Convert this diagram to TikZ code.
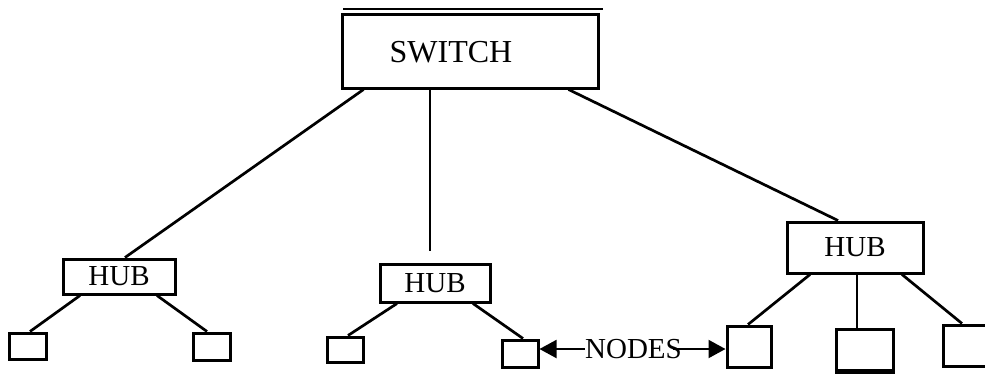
\documentclass[tikz,border=0pt]{standalone}
\usepackage{fontspec}
\setmainfont{Liberation Serif}
\usetikzlibrary{arrows.meta,positioning}

\begin{document}
\begin{tikzpicture}[
    x=1pt, y=-1pt,
    box/.style={rectangle, draw, line width=3pt, inner sep=0pt},
    hub/.style={box, font=\fontsize{29}{29}\selectfont},
    leaf/.style={box},
    wire/.style={line width=2.7pt},
    arrow/.style={line width=2pt, -{Triangle[length=17pt,width=18pt]}}
]
\clip (0,0) rectangle (985,376);

% switch at the top
\node[box, minimum width=256pt, minimum height=74pt] (switch) at (470,51) {};
\node[font=\fontsize{32}{32}\selectfont, inner sep=0pt] (switchtext) at (451,52) {SWITCH};
\draw[line width=2.4pt] (343,9) -- (603,9);

% hubs
\node[hub, minimum width=112pt, minimum height=35pt] (hub1) at (119,276.5) {HUB};
\node[hub, minimum width=110pt, minimum height=38pt] (hub2) at (435,283) {HUB};
\node[hub, minimum width=136pt, minimum height=51pt] (hub3) at (855,247.5) {HUB};
\coordinate (hub2top) at (430,251);

% end nodes
\node[leaf, minimum width=37pt, minimum height=26pt] (n1) at (27.5,346) {};
\node[leaf, minimum width=37pt, minimum height=27pt] (n2) at (211.5,346.5) {};
\node[leaf, minimum width=36pt, minimum height=25pt] (n3) at (345,349.5) {};
\node[leaf, minimum width=36pt, minimum height=27pt] (n4) at (520,353.5) {};
\node[leaf, minimum width=44pt, minimum height=41pt] (n5) at (749,346.5) {};
\node[leaf, minimum width=57pt, minimum height=43pt] (n6) at (864.5,350.5) {};
\node[leaf, minimum width=60pt, minimum height=41pt] (n7) at (973,345.5) {};
\draw[line width=2.4pt] ([xshift=2pt,yshift=3pt]n6.south west) -- ([yshift=3pt]n6.south east);

% switch to hubs
\draw[wire] ([xshift=23pt]switch.south west) -- ([xshift=6pt]hub1.north);
\draw[wire] (switch.south -| hub2top) -- (hub2top);
\draw[wire] ([xshift=-31pt]switch.south east) -- ([xshift=-17pt]hub3.north);

% hubs to end nodes
\draw[wire] ([xshift=-39pt]hub1.south) -- ([xshift=2.5pt]n1.north);
\draw[wire] ([xshift=38pt]hub1.south) -- ([xshift=-4.5pt]n2.north);
\draw[wire] ([xshift=-38pt]hub2.south) -- ([xshift=3pt]n3.north);
\draw[wire] ([xshift=38pt]hub2.south) -- ([xshift=3pt]n4.north);
\draw[wire] ([xshift=-45pt]hub3.south) -- ([xshift=-1pt]n5.north);
\draw[wire] ([xshift=2pt]hub3.south) -- ([xshift=-7.5pt]n6.north);
\draw[wire] ([xshift=47pt]hub3.south) -- ([xshift=-11pt]n7.north);

% label with arrows
\node[font=\fontsize{29}{29}\selectfont, inner sep=0pt] (nodeslabel) at (633.5,349) {NODES};
\draw[arrow] (nodeslabel.west) -- (nodeslabel.west -| n4.east);
\draw[arrow] ([xshift=-9pt]nodeslabel.east) -- (nodeslabel.east -| n5.west);

\end{tikzpicture}
\end{document}
